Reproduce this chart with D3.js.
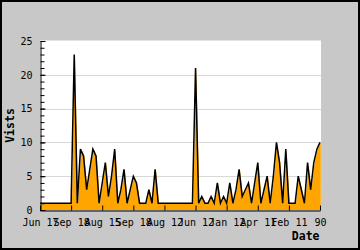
<!DOCTYPE html>
<html>
<head>
<meta charset="utf-8">
<script src="https://cdn.jsdelivr.net/npm/d3@7"></script>
<style>
    body { margin: 0; }
    svg { display: block; }
    text { font-family: "DejaVu Sans Mono", monospace; }
</style>
</head>
<body>
<svg width="360" height="250"></svg>
<script>
var visits = [1, 1, 1, 1, 1, 1, 1, 1, 1, 1, 1,
    23, 1, 9, 8, 3, 6, 9, 8, 1, 4, 7, 2, 5, 9, 1, 3, 6, 1, 3, 5, 4, 1, 1, 1, 3, 1, 6, 1,
    1, 1, 1, 1, 1, 1, 1, 1, 1, 1, 1,
    21, 1, 2, 1, 1, 2, 1, 4, 1, 2, 1, 4, 1, 3, 6, 2, 3, 4, 1, 4, 7, 1, 3, 5, 1, 5, 10, 7, 1, 9,
    1, 1, 1, 5, 3, 1, 7, 3, 7, 9, 10];
var tickIndex = [0, 10, 20, 30, 40, 50, 60, 70, 80, 90];
var tickLabels = ["Jun 17", "Sep 18", "Aug 15", "Sep 18", "Aug 12", "Jun 12", "Jan 12", "Apr 11", "Feb 11", "90"];
var yMajor = [0, 5, 10, 15, 20, 25];
var yGrid = [5, 10, 15, 20];

(function(d3) {
    "use strict";

    var svg = d3.select("svg"),
        width = +svg.attr("width"),
        height = +svg.attr("height"),
        left = 40, right = 321, top = 41, bottom = 210,

        x = d3.scaleLinear().domain([0, visits.length - 1]).range([left, right - 1]),
        y = d3.scaleLinear().domain([0, 25]).range([bottom, top]);

    // grey frame
    svg.append("rect").attr("x", 1).attr("y", 1).attr("width", width - 2).attr("height", height - 2)
        .attr("fill", "#c8c8c8").attr("stroke", "#000").attr("stroke-width", 2);

    svg.append("rect").attr("x", left).attr("y", top - 0.5).attr("width", right - left).attr("height", bottom - top + 0.5)
        .attr("fill", "#fff");

    svg.append("g").selectAll("line").data(yGrid).enter().append("line")
        .attr("x1", left).attr("x2", right)
        .attr("y1", function(d) { return Math.round(y(d)) + 0.5; })
        .attr("y2", function(d) { return Math.round(y(d)) + 0.5; })
        .attr("stroke", "#d8d8d8");

    var area = d3.area()
        .x(function(d, i) { return x(i) + 0.8; })
        .y0(y(0))
        .y1(function(d) { return y(d); });

    var line = d3.line()
        .x(function(d, i) { return x(i); })
        .y(function(d) { return y(d); });

    svg.append("path").datum(visits).attr("d", area).attr("fill", "#ffa500");
    svg.append("path").datum(visits).attr("d", line)
        .attr("fill", "none").attr("stroke", "#000").attr("stroke-width", 1.5).attr("stroke-linejoin", "miter");

    // y axis: minor ticks every unit, labels every 5
    var yMinor = svg.append("g").attr("transform", "translate(" + (left + 0.5) + ",0)")
        .call(d3.axisLeft(y).tickValues(d3.range(0, 26)).tickSize(-4).tickFormat(""));
    yMinor.select(".domain").remove();

    var yAxis = svg.append("g").attr("transform", "translate(" + (left + 0.5) + ",0)")
        .call(d3.axisLeft(y).tickValues(yMajor).tickSize(-5).tickPadding(8).tickSizeOuter(0));
    yAxis.selectAll("text").attr("font-size", 10).attr("fill", "#000");

    var xAxis = svg.append("g").attr("transform", "translate(0," + (bottom + 0.5) + ")")
        .call(d3.axisBottom(x).tickValues(tickIndex).tickSize(-5).tickPadding(8).tickSizeOuter(0)
            .tickFormat(function(d, i) { return tickLabels[i]; }));
    xAxis.selectAll("text").attr("font-size", 10).attr("fill", "#000");

    svg.selectAll(".domain").attr("stroke", "#000");
    svg.selectAll(".tick line").attr("stroke", "#000");

    svg.append("text").attr("x", 319.5).attr("y", 240).attr("text-anchor", "end")
        .attr("font-size", 11.5).attr("font-weight", "bold").text("Date");

    svg.append("text").attr("transform", "translate(13.5," + ((top + bottom) / 2) + ") rotate(-90)")
        .attr("text-anchor", "middle").attr("font-size", 11.5).attr("font-weight", "bold").text("Vists");

}(d3));
</script>
</body>
</html>
